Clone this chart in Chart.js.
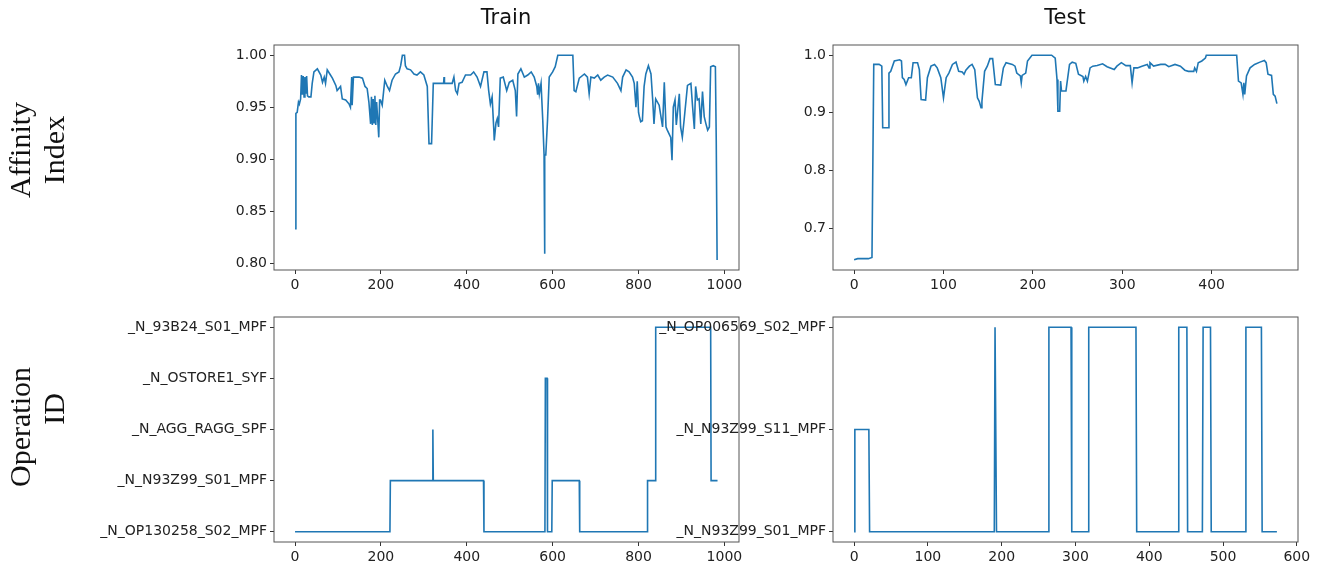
<!DOCTYPE html>
<html>
<head>
<meta charset="utf-8">
<script src="https://cdn.jsdelivr.net/npm/chart.js@4.4.1/dist/chart.umd.min.js"></script>
<style>
  body { margin: 0; background: #fff; }
  #wrap { position: relative; width: 1322px; height: 566px; overflow: hidden; }
  canvas { position: absolute; left: 0; top: 0; }
  .title { position: absolute; font-family: "DejaVu Sans", sans-serif; font-size: 21px; color: #111; transform: translateX(-50%); top: 5px; }
  .rowlab { position: absolute; font-family: "Liberation Serif", serif; font-size: 30px; color: #111; white-space: nowrap;
            transform: translate(-50%, -50%) rotate(-90deg); }
</style>
</head>
<body>
<div id="wrap">
  <canvas id="trainAff" width="1322" height="566"></canvas>
  <canvas id="testAff" width="1322" height="566"></canvas>
  <canvas id="trainOp" width="1322" height="566"></canvas>
  <canvas id="testOp" width="1322" height="566"></canvas>
  <div class="title" style="left:506px">Train</div>
  <div class="title" style="left:1065px">Test</div>
  <div class="rowlab" style="left:20px; top:150px">Affinity</div>
  <div class="rowlab" style="left:54px; top:150px">Index</div>
  <div class="rowlab" style="left:20px; top:427px">Operation</div>
  <div class="rowlab" style="left:54px; top:409px">ID</div>
</div>
<script>
// affinity index, train
const trainAffX = [0, 2, 5, 8, 10, 13, 15, 17, 19, 21, 23, 25, 27, 29, 32, 37, 40, 44, 52, 60, 64, 68, 71, 75, 81, 87, 95, 98, 106, 110,
  118, 126, 129, 132, 133, 136, 149, 157, 163, 168, 172, 176, 178, 180, 182, 184, 186, 188, 190, 193, 195, 197, 199, 203, 209, 215, 220, 226, 234, 242,
  246, 250, 255, 257, 261, 269, 277, 284, 292, 300, 308, 312, 318, 322, 327, 346, 347, 348, 366, 370, 374, 378, 382, 389, 397, 409, 416, 424, 432, 440,
  447, 451, 455, 459, 463, 464, 468, 471, 474, 478, 485, 493, 499, 507, 513, 516, 519, 526, 534, 542, 550, 557, 563, 565, 567, 569, 573, 577, 580, 581,
  582, 584, 588, 592, 600, 606, 612, 647, 650, 654, 662, 674, 681, 685, 689, 697, 705, 712, 720, 728, 740, 751, 759, 763, 771, 778, 786, 790, 794, 797,
  800, 802, 805, 809, 813, 817, 823, 829, 833, 836, 840, 848, 856, 860, 864, 867, 875, 878, 881, 885, 888, 895, 898, 902, 906, 914, 922, 926, 930, 933,
  937, 941, 945, 949, 953, 957, 961, 965, 968, 974, 979, 981, 983];
const trainAffY = [0.833, 0.944, 0.945, 0.955, 0.953, 0.958, 0.981, 0.962, 0.980, 0.960, 0.979, 0.963, 0.980, 0.961, 0.960, 0.960, 0.973, 0.984, 0.987, 0.981,
  0.974, 0.979, 0.973, 0.986, 0.982, 0.978, 0.971, 0.966, 0.970, 0.958,
  0.957, 0.953, 0.950, 0.979, 0.952, 0.979, 0.979, 0.978, 0.970, 0.968, 0.955, 0.934, 0.960, 0.933, 0.958, 0.935, 0.961, 0.933, 0.955, 0.935,
  0.921, 0.957, 0.957, 0.952, 0.976, 0.970, 0.966, 0.976, 0.982, 0.984,
  0.990, 1.000, 1.000, 0.990, 0.987, 0.986, 0.982, 0.981, 0.984, 0.981, 0.970, 0.915, 0.915, 0.973, 0.973, 0.973, 0.979, 0.973, 0.973, 0.979,
  0.966, 0.963, 0.973, 0.974, 0.981, 0.981, 0.984, 0.979, 0.970, 0.984,
  0.984, 0.966, 0.953, 0.960, 0.928, 0.918, 0.935, 0.939, 0.931, 0.978, 0.979, 0.966, 0.974, 0.976, 0.966, 0.941, 0.982, 0.987, 0.979, 0.981,
  0.984, 0.979, 0.970, 0.962, 0.973, 0.963, 0.973, 0.937, 0.904, 0.809,
  0.904, 0.904, 0.937, 0.979, 0.984, 0.989, 1.000, 1.000, 0.966, 0.965, 0.978, 0.982, 0.979, 0.963, 0.979, 0.978, 0.981, 0.976, 0.979, 0.981,
  0.979, 0.973, 0.966, 0.979, 0.986, 0.984, 0.979, 0.973, 0.950, 0.975,
  0.945, 0.941, 0.936, 0.937, 0.970, 0.982, 0.990, 0.982, 0.957, 0.934, 0.958, 0.952, 0.931, 0.974, 0.931, 0.928, 0.921, 0.899, 0.950, 0.957,
  0.933, 0.963, 0.931, 0.921, 0.937, 0.971, 0.973, 0.950, 0.929, 0.970,
  0.957, 0.958, 0.934, 0.965, 0.941, 0.934, 0.928, 0.931, 0.989, 0.990, 0.989, 0.918, 0.803];

// affinity index, test
const testAffX = [0, 4, 16, 20, 22, 28, 31, 32, 38, 39, 41, 45, 51, 53, 54, 56, 58, 61, 64, 66, 71, 73, 75, 80, 82, 86, 90, 93, 97, 100,
  103, 106, 110, 114, 117, 121, 123, 125, 129, 132, 135, 138, 140, 142, 143, 146, 149, 152, 155, 158, 164, 167, 170, 177, 180, 182, 186, 187, 188, 192,
  194, 199, 221, 225, 227, 228, 230, 231, 232, 237, 241, 244, 248, 251, 256, 257, 259, 261, 264, 267, 272, 278, 283, 291, 294, 299, 304, 309, 311, 313,
  317, 322, 328, 330, 331, 335, 343, 348, 352, 359, 365, 370, 374, 380, 381, 383, 385, 389, 393, 394, 428, 430, 433, 435, 436, 437, 439, 443, 448, 454,
  459, 461, 463, 467, 469, 471, 473];
const testAffY = [0.645, 0.647, 0.647, 0.649, 0.984, 0.984, 0.981, 0.874, 0.874, 0.969, 0.972, 0.990, 0.992, 0.990, 0.961, 0.958, 0.949, 0.961, 0.961, 0.987,
  0.987, 0.975, 0.923, 0.922, 0.961, 0.981, 0.984, 0.978, 0.961, 0.926,
  0.961, 0.969, 0.984, 0.988, 0.972, 0.971, 0.967, 0.974, 0.981, 0.984, 0.975, 0.926, 0.920, 0.909, 0.920, 0.972, 0.981, 0.994, 0.994, 0.949,
  0.948, 0.978, 0.987, 0.984, 0.981, 0.969, 0.964, 0.952, 0.965, 0.969,
  0.990, 1.000, 1.000, 0.995, 0.958, 0.903, 0.903, 0.955, 0.938, 0.938, 0.984, 0.988, 0.986, 0.967, 0.963, 0.955, 0.963, 0.955, 0.978, 0.981,
  0.982, 0.985, 0.980, 0.975, 0.981, 0.987, 0.982, 0.982, 0.952, 0.978,
  0.978, 0.981, 0.984, 0.978, 0.987, 0.981, 0.984, 0.984, 0.980, 0.984, 0.981, 0.974, 0.972, 0.972, 0.978, 0.972, 0.987, 0.990, 0.995, 1.000,
  1.000, 0.955, 0.952, 0.932, 0.952, 0.932, 0.964, 0.978, 0.984, 0.988,
  0.991, 0.987, 0.967, 0.965, 0.932, 0.929, 0.916];

// operation id as category index, only the points where it changes
const trainOpLabels = ['_N_OP130258_S02_MPF', '_N_N93Z99_S01_MPF', '_N_AGG_RAGG_SPF', '_N_OSTORE1_SYF', '_N_93B24_S01_MPF'];
const trainOpX = [0, 221, 222, 320, 321, 322, 439, 440, 582, 583, 587, 588, 598, 599, 662, 663, 820, 821, 839, 840, 968, 969, 984];
const trainOpY = [0, 0, 1, 1, 2, 1, 1, 0, 0, 3, 3, 0, 0, 1, 1, 0, 0, 1, 1, 4, 4, 1, 1];

const testOpLabels = ['_N_N93Z99_S01_MPF', '_N_N93Z99_S11_MPF', '_N_OP006569_S02_MPF'];
const testOpX = [0, 1, 20, 21, 190, 191, 192, 193, 263, 264, 294, 295, 317, 318, 382, 383, 439, 440, 451, 452, 472, 473, 483, 484, 530, 531, 552, 553, 573];
const testOpY = [0, 1, 1, 0, 0, 2, 2, 0, 0, 2, 2, 0, 0, 2, 2, 0, 0, 2, 2, 0, 0, 2, 2, 0, 0, 2, 2, 0, 0];

// tick labels
const trainXTicks = [0, 200, 400, 600, 800, 1000];
const testAffXTicks = [0, 100, 200, 300, 400];
const testOpXTicks = [0, 100, 200, 300, 400, 500, 600];
const trainAffYTicks = [0.80, 0.85, 0.90, 0.95, 1.00];
const testAffYTicks = [0.7, 0.8, 0.9, 1.0];

const W = 1322, H = 566;
const tickFont = { family: 'DejaVu Sans', size: 14 };

// box around the plot area, like matplotlib spines
const frame = {
  id: 'frame',
  afterDraw(chart) {
    const a = chart.chartArea, ctx = chart.ctx;
    ctx.save();
    ctx.strokeStyle = '#555';
    ctx.lineWidth = 1;
    ctx.strokeRect(a.left, a.top, a.right - a.left, a.bottom - a.top);
    ctx.restore();
  }
};

// box = [left, top, right, bottom] of the plot area, yw = room for y labels
function makeChart(id, xs, ys, box, yw, xr, yr, xTicks, yTicks, yFmt) {
  const xh = 30;
  const pts = xs.map((x, i) => ({ x: x, y: ys[i] }));
  new Chart(document.getElementById(id), {
    type: 'line',
    data: {
      datasets: [{
        data: pts,
        borderColor: '#1f77b4',
        borderWidth: 1.6,
        pointRadius: 0,
        tension: 0,
        fill: false
      }]
    },
    options: {
      responsive: false,
      animation: false,
      events: [],
      layout: { padding: { left: box[0] - yw, top: box[1], right: W - box[2], bottom: H - box[3] - xh } },
      plugins: { legend: { display: false }, tooltip: { enabled: false } },
      scales: {
        x: {
          type: 'linear',
          min: xr[0], max: xr[1],
          afterFit: s => { s.height = xh; },
          afterBuildTicks: s => { s.ticks = xTicks.map(v => ({ value: v })); },
          grid: { drawOnChartArea: false, drawTicks: true, tickLength: 4, color: '#333' },
          border: { display: false },
          ticks: { font: tickFont, color: '#222', padding: 3, maxRotation: 0, autoSkip: false, callback: v => String(v) }
        },
        y: {
          type: 'linear',
          min: yr[0], max: yr[1],
          afterFit: s => { s.width = yw; },
          afterBuildTicks: s => { s.ticks = yTicks.map(v => ({ value: v })); },
          grid: { drawOnChartArea: false, drawTicks: true, tickLength: 4, color: '#333' },
          border: { display: false },
          ticks: { font: tickFont, color: '#222', padding: 3, autoSkip: false, callback: yFmt }
        }
      }
    },
    plugins: [frame]
  });
}

const idx = n => [...Array(n).keys()];

makeChart('trainAff', trainAffX, trainAffY, [274, 45, 739, 270], 200, [-49, 1034], [0.7933, 1.0099],
  trainXTicks, trainAffYTicks, v => v.toFixed(2));
makeChart('testAff', testAffX, testAffY, [833, 45, 1298, 270], 200, [-23.6, 496.6], [0.6273, 1.0177],
  testAffXTicks, testAffYTicks, v => v.toFixed(1));
makeChart('trainOp', trainOpX, trainOpY, [274, 317, 739, 542], 270, [-49, 1034], [-0.2, 4.2],
  trainXTicks, idx(trainOpLabels.length), v => trainOpLabels[v]);
makeChart('testOp', testOpX, testOpY, [833, 317, 1298, 542], 200, [-28.6, 601.6], [-0.1, 2.1],
  testOpXTicks, idx(testOpLabels.length), v => testOpLabels[v]);
</script>
</body>
</html>
